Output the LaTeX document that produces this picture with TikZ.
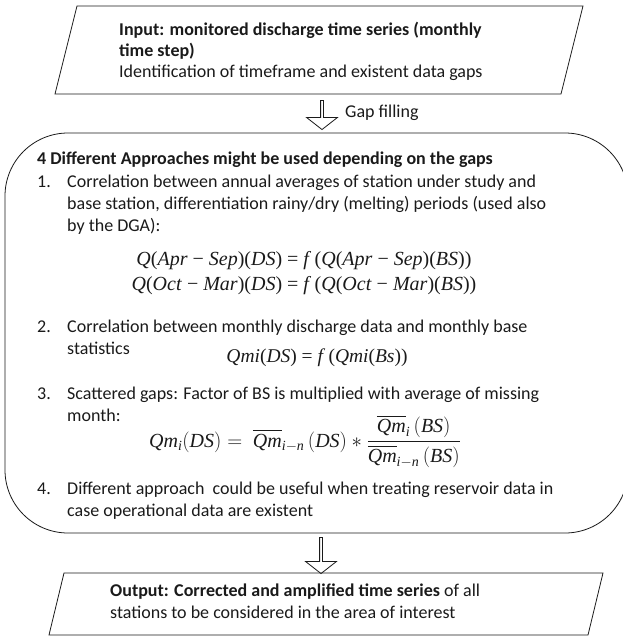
\documentclass[tikz,border=0pt]{standalone}
\usepackage{amsmath}
\usepackage{fontspec}
\setmainfont{Carlito}
\newfontfamily\formfont{Liberation Serif}
\usepackage{xcolor}
\usetikzlibrary{positioning,shapes.geometric,shapes.arrows}
\definecolor{Ink}{HTML}{1A1A1A}
\newcommand{\iv}[1]{\textit{#1}}
\newcommand{\tv}[1]{\text{\itshape #1}}
\newcommand{\num}[1]{\makebox[30pt][l]{#1}}
\newcommand{\ind}{\hspace*{30pt}}
\begin{document}
\begin{tikzpicture}[x=1pt,y=-1pt,
  iobox/.style={draw=Ink,line width=0.8pt,inner sep=0pt,transform shape},
  gapbox/.style={draw=Ink,rounded corners=63pt,line width=0.8pt,minimum width=623pt,minimum height=400pt,inner sep=0pt},
  txt/.style={font=\fontsize{18}{22}\selectfont,text=Ink,align=left,inner sep=0pt,anchor=north west},
  hd/.style={txt,font=\fontsize{18}{22}\selectfont\bfseries},
  fml/.style={font=\formfont\fontsize{19.5}{23}\selectfont,text=Ink,inner sep=0pt,anchor=base},
  blkarr/.style={single arrow,draw=Ink,line width=0.8pt,fill=white,shape border rotate=270,single arrow head extend=14pt,single arrow tip angle=104,minimum width=10pt,inner sep=1pt}
]
\useasboundingbox (0,0) rectangle (623,637);

% input
\begin{scope}[shift={(319,50)},xslant=0.25]
\node[iobox,minimum width=506pt,minimum height=88pt] (inbox) at (0,0) {};
\end{scope}
\node[txt,font=\fontsize{18}{21}\selectfont] (intxt) at (119,22) {\textbf{Input: monitored discharge time series (monthly}\\ \textbf{time step)}\\ Identification of timeframe and existent data gaps};

\node[blkarr,minimum height=29pt] (arr1) at (322,114.5) {};
\node[txt,anchor=base west] (gapfill) at (345,117) {Gap filling};

% approaches
\node[gapbox] (gap) at (316.5,333) {};
\node[hd] (head) at (37,152) {4 Different Approaches might be used depending on the gaps};

\node[txt] (i1) at (37,175) {\num{1.}Correlation between annual averages of station under study and\\ \ind base station, differentiation rainy/dry (melting) periods (used also\\ \ind by the DGA):};
\node[fml,font=\formfont\fontsize{20}{23}\selectfont] (f1a) at (304,265) {\iv{Q}(\iv{Apr} − \iv{Sep})(\iv{DS}) = \iv{f}\,(\iv{Q}(\iv{Apr} − \iv{Sep})(\iv{BS}))};
\node[fml,font=\formfont\fontsize{20}{23}\selectfont] (f1b) at (304,290) {\iv{Q}(\iv{Oct} − \iv{Mar})(\iv{DS}) = \iv{f}\,(\iv{Q}(\iv{Oct} − \iv{Mar})(\iv{BS}))};

\node[txt] (i2) at (37,320) {\num{2.}Correlation between monthly discharge data and monthly base\\ \ind statistics};
\node[fml] (f2) at (317,362) {\iv{Qmi}(\iv{DS}) = \iv{f}\,(\iv{Qmi}(\iv{Bs}))};

\node[txt] (i3) at (37,387) {\num{3.}Scattered gaps: Factor of BS is multiplied with average of missing\\ \ind month:};
\node[fml,font=\formfont\fontsize{20}{23}\selectfont] (f3) at (305,447) {$\tv{Qm}_{\tv{i}}(\tv{DS}) =\ \overline{\tv{Qm}}_{\tv{i}-\tv{n}}\,(\tv{DS}) * \dfrac{\overline{\tv{Qm}}_{\tv{i}}\,(\tv{BS})}{\overline{\tv{Qm}}_{\tv{i}-\tv{n}}\,(\tv{BS})}$};

\node[txt] (i4) at (37,482) {\num{4.}Different approach\ \ could be useful when treating reservoir data in\\ \ind case operational data are existent};

\node[blkarr,minimum height=36pt] (arr2) at (321,555) {};

% output
\begin{scope}[shift={(326,604)},xslant=0.242]
\node[iobox,minimum width=539pt,minimum height=62pt] (outbox) at (0,0) {};
\end{scope}
\node[txt] (outtxt) at (110,584) {\textbf{Output: Corrected and amplified time series} of all\\ stations to be considered in the area of interest};
\end{tikzpicture}
\end{document}
